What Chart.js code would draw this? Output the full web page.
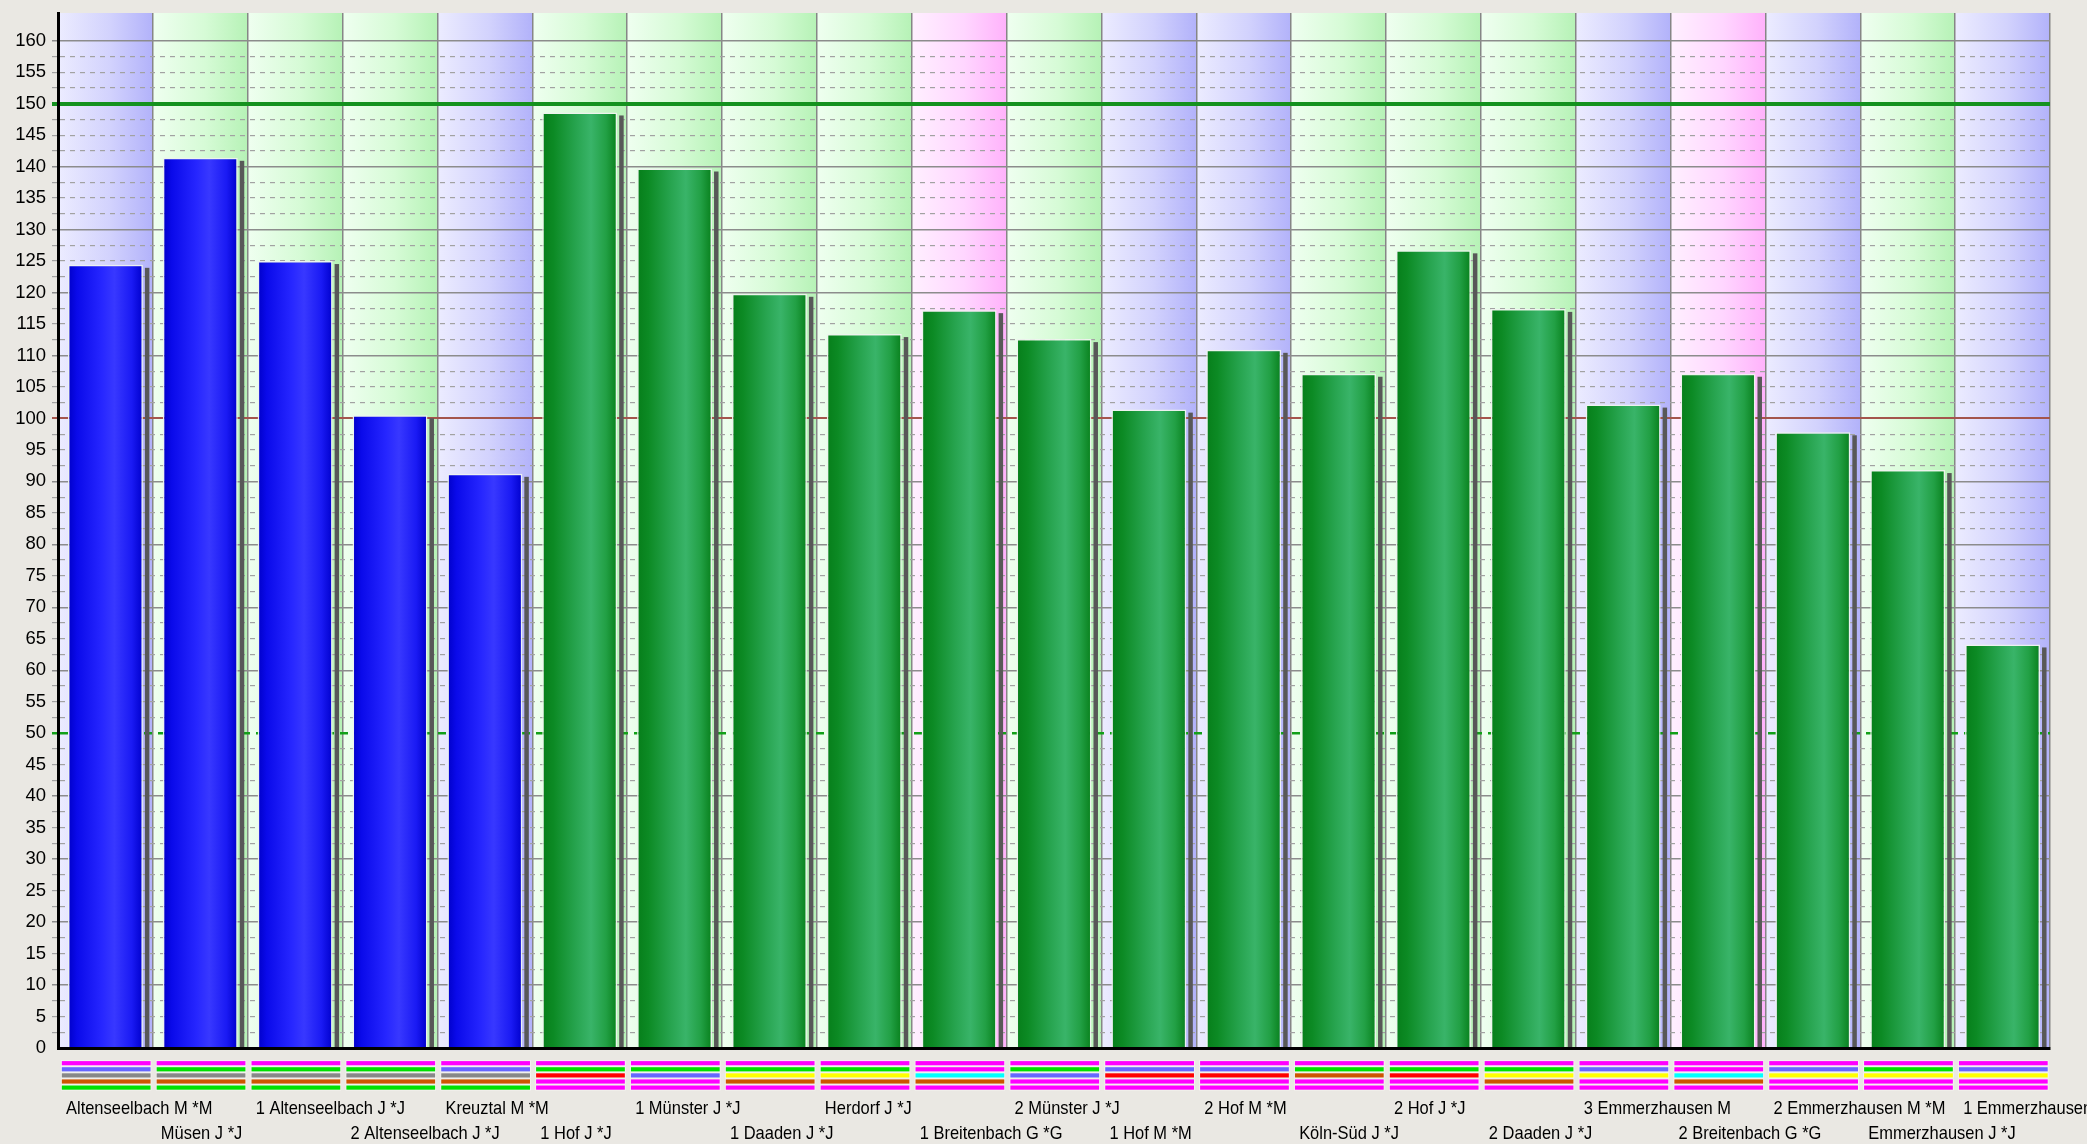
<!DOCTYPE html>
<html>
<head>
<meta charset="utf-8">
<script src="https://cdn.jsdelivr.net/npm/chart.js@4.4.1/dist/chart.umd.min.js"></script>
<style>
  html, body { margin: 0; padding: 0; background: #eae8e3; }
  #wrap { width: 2087px; height: 1144px; }
</style>
</head>
<body>
<div id="wrap"><canvas id="rankChart" width="2087" height="1144"></canvas></div>
<script>
// categories (x labels)
const labels = [
    'Altenseelbach M *M', 'Müsen J *J', '1 Altenseelbach J *J', '2 Altenseelbach J *J', 'Kreuztal M *M',
    '1 Hof J *J', '1 Münster J *J', '1 Daaden J *J', 'Herdorf J *J', '1 Breitenbach G *G',
    '2 Münster J *J', '1 Hof M *M', '2 Hof M *M', 'Köln-Süd J *J', '2 Hof J *J',
    '2 Daaden J *J', '3 Emmerzhausen M', '2 Breitenbach G *G', '2 Emmerzhausen M *M', 'Emmerzhausen J *J',
    '1 Emmerzhausen'
];

// bar values
const values = [
    124.4, 141.4, 125.0, 100.5, 91.2,
    148.6, 139.7, 119.8, 113.4, 117.2,
    112.6, 101.4, 110.9, 107.1, 126.7,
    117.4, 102.2, 107.1, 97.8, 91.8,
    64.1
];

// bar colour group: b = blue, g = green
const barGroup = ['b','b','b','b','b','g','g','g','g','g','g','g','g','g','g','g','g','g','g','g','g'];

// background band per category: b = blue, g = green, p = pink
const bandGroup = ['b','g','g','g','b','g','g','g','g','p','g','b','b','g','g','g','b','p','b','g','b'];

// five colour stripes under each category (top to bottom)
const stripes = [
    'mvsog', 'mgsog', 'mgsog', 'mgsog', 'mvsog',
    'mgrmm', 'mgvmm', 'mgyom', 'mgyom', 'mmcom',
    'mgvmm', 'mvrmm', 'mvrmm', 'mgomm', 'mgrmm',
    'mgyom', 'mvymm', 'mmcom', 'mvymm', 'mgymm',
    'mvymm'
];

// y axis
const yMax = 164.4;
const yStep = 2.5;
const yLabelStep = 5;

const stripeColors = {
    m: '#ff00ff', v: '#6666ff', s: '#888888', o: '#cc5500', g: '#00e000',
    r: '#ff0000', y: '#ffff00', c: '#00ffff'
};
const bandColors = {
    b: ['#ececff', '#d2d2fd', '#b2b2fa'],
    g: ['#effff0', '#d6fbd6', '#b6f2b6'],
    p: ['#fff0ff', '#ffd6ff', '#ffb2fb']
};
const barStops = {
    b: [[0, '#0000c8'], [0.12, '#0a0aea'], [0.45, '#2626ff'], [0.62, '#3838ff'], [0.85, '#1a1af4'], [1, '#0000cc']],
    g: [[0, '#067e1a'], [0.15, '#0c8a24'], [0.45, '#27a44f'], [0.65, '#39b469'], [0.85, '#22a045'], [1, '#08801c']]
};
const BAR_PCT = 0.79;
const FONT = "'Liberation Sans', Arial, sans-serif";

function barFill(context) {
    const chart = context.chart;
    const x = chart.scales.x;
    const i = context.dataIndex;
    const grp = barGroup[i] || 'g';
    if (!chart.chartArea || !x || i === undefined) return grp === 'b' ? '#1a1af4' : '#22a045';
    const cx = x.getPixelForValue(i);
    const w = x.width / labels.length * BAR_PCT;
    if (!isFinite(cx) || !(w > 0)) return grp === 'b' ? '#1a1af4' : '#22a045';
    const g = chart.ctx.createLinearGradient(cx - w / 2, 0, cx + w / 2, 0);
    barStops[grp].forEach(s => g.addColorStop(s[0], s[1]));
    return g;
}

function isMult(v, step) {
    const r = Math.abs(v / step - Math.round(v / step));
    return r < 1e-6;
}

const bandsPlugin = {
    id: 'bands',
    beforeDraw(chart) {
        const {ctx, chartArea: a} = chart;
        const x = chart.scales.x;
        const half = (x.getPixelForValue(1) - x.getPixelForValue(0)) / 2;
        ctx.save();
        ctx.fillStyle = '#eae8e3';
        ctx.fillRect(0, 0, chart.width, chart.height);
        labels.forEach((l, i) => {
            const c = x.getPixelForValue(i);
            const x0 = c - half, x1 = c + half;
            const cols = bandColors[bandGroup[i]];
            const g = ctx.createLinearGradient(x0, 0, x1, 0);
            g.addColorStop(0, cols[0]);
            g.addColorStop(0.55, cols[1]);
            g.addColorStop(1, cols[2]);
            ctx.fillStyle = g;
            ctx.fillRect(x0, a.top, x1 - x0, a.bottom - a.top);
        });
        ctx.restore();
    }
};

const shadowPlugin = {
    id: 'barShadow',
    beforeDatasetsDraw(chart) {
        const {ctx} = chart;
        const meta = chart.getDatasetMeta(0);
        ctx.save();
        ctx.fillStyle = '#585858';
        meta.data.forEach(el => {
            const p = el.getProps(['x', 'y', 'base', 'width'], true);
            ctx.fillRect(p.x + p.width / 2 + 2, p.y + 3, 4.5, p.base - p.y - 3);
        });
        ctx.restore();
    }
};

const footerPlugin = {
    id: 'footer',
    afterDraw(chart) {
        const {ctx, chartArea: a} = chart;
        const x = chart.scales.x;
        const half = (x.getPixelForValue(1) - x.getPixelForValue(0)) / 2;
        ctx.save();
        labels.forEach((l, i) => {
            const c = x.getPixelForValue(i);
            const x0 = c - half + 3, x1 = c + half - 1.5;
            stripes[i].split('').forEach((k, j) => {
                const y0 = a.bottom + 12.3 + j * 6.1;
                ctx.fillStyle = 'rgba(255,255,255,0.55)';
                ctx.fillRect(x0, y0, x1 - x0, 5.8);
                ctx.fillStyle = stripeColors[k];
                ctx.fillRect(x0 + 0.8, y0 + 0.8, x1 - x0 - 1.6, 4.2);
            });
            ctx.save();
            ctx.translate(c - half + 8, a.bottom + (i % 2 === 0 ? 60.5 : 85.5));
            ctx.scale(0.89, 1);
            ctx.font = '18.5px ' + FONT;
            ctx.fillStyle = '#000';
            ctx.textAlign = 'left';
            ctx.textBaseline = 'middle';
            ctx.fillText(l, 0, 0);
            ctx.restore();
        });
        ctx.restore();
    }
};

document.addEventListener('DOMContentLoaded', function() {
    const ctx = document.getElementById('rankChart').getContext('2d');

    new Chart(ctx, {
        type: 'bar',
        data: {
            labels: labels,
            datasets: [{
                data: values,
                backgroundColor: barFill,
                borderColor: 'rgba(238,242,238,0.95)',
                borderWidth: 1.5,
                borderSkipped: 'start',
                barPercentage: BAR_PCT,
                categoryPercentage: 1
            }]
        },
        options: {
            responsive: false,
            animation: false,
            layout: { padding: { top: 13, right: 37, bottom: 96, left: 0 } },
            plugins: {
                legend: { display: false },
                tooltip: { enabled: false }
            },
            scales: {
                x: {
                    offset: true,
                    grid: { offset: true, color: '#868686', lineWidth: 1.5, drawTicks: false },
                    border: { display: true, color: '#000', width: 3, z: 1 },
                    ticks: { display: false },
                    afterFit(s) { s.height = 0; s.paddingLeft = 0; s.paddingRight = 0; }
                },
                y: {
                    min: 0,
                    max: yMax,
                    afterFit(s) { s.width = 58; s.paddingTop = 0; s.paddingBottom = 0; },
                    ticks: {
                        stepSize: yStep,
                        autoSkip: false,
                        padding: 6,
                        color: '#000',
                        font: { size: 18.5, family: FONT },
                        callback: v => (isMult(v, yLabelStep) ? String(v) : '')
                    },
                    grid: {
                        tickLength: 6,
                        color(c) {
                            const v = c.tick ? c.tick.value : -1;
                            if (v === 150) return '#14921f';
                            if (v === 100) return '#a4554c';
                            if (v === 50) return '#12a018';
                            if (v <= 0 || !isMult(v, yStep)) return 'rgba(0,0,0,0)';
                            if (isMult(v, 10)) return '#8c8c8c';
                            return '#a2a2a2';
                        },
                        lineWidth(c) {
                            const v = c.tick ? c.tick.value : -1;
                            if (v === 150) return 4;
                            if (v === 100) return 2;
                            if (v === 50) return 2.5;
                            if (isMult(v, 10)) return 1.5;
                            return 1.2;
                        }
                    },
                    border: {
                        display: true,
                        color: '#000',
                        width: 3,
                        z: 1,
                        dash(c) {
                            const v = c.tick ? c.tick.value : -1;
                            if (v === 50) return [8, 6];
                            if (v < 0 || isMult(v, 10)) return [];
                            return [5, 5];
                        }
                    }
                }
            }
        },
        plugins: [bandsPlugin, shadowPlugin, footerPlugin]
    });
});
</script>
</body>
</html>
